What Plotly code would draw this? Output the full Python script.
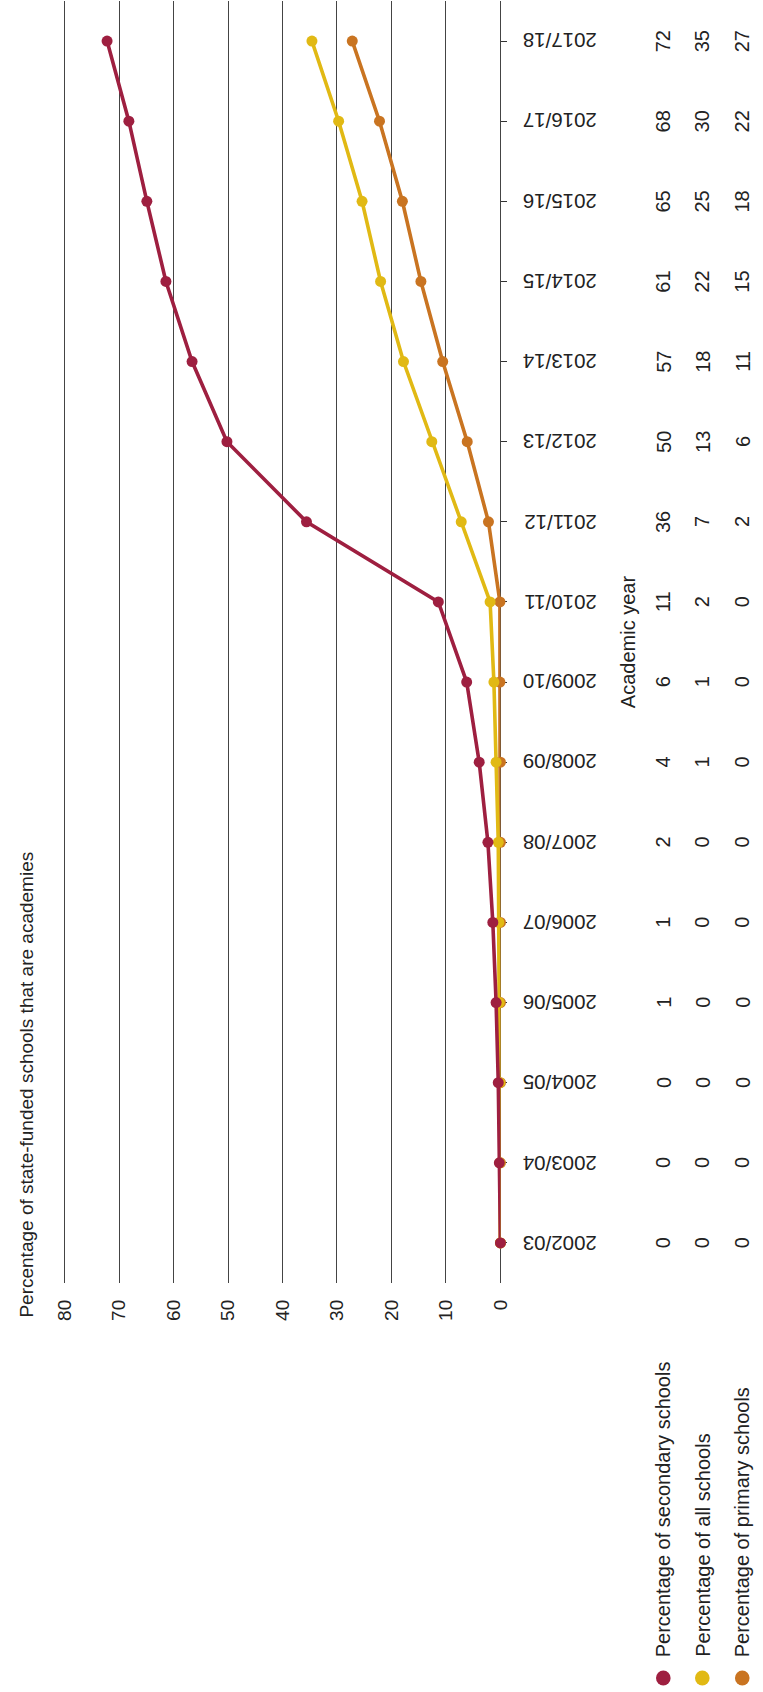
import plotly.graph_objects as go

W, H = 763, 1692

years = ["2002/03", "2003/04", "2004/05", "2005/06", "2006/07", "2007/08", "2008/09",
         "2009/10", "2010/11", "2011/12", "2012/13", "2013/14", "2014/15", "2015/16",
         "2016/17", "2017/18"]

secondary = [0.0, 0.2, 0.4, 0.8, 1.4, 2.3, 3.9, 6.2, 11.4, 35.6, 50.2, 56.6, 61.4, 64.9, 68.2, 72.2]
all_schools = [0.0, 0.1, 0.1, 0.2, 0.3, 0.4, 0.8, 1.2, 1.9, 7.2, 12.6, 17.8, 22.0, 25.4, 29.7, 34.6]
primary = [0.0, 0.0, 0.0, 0.0, 0.0, 0.0, 0.0, 0.1, 0.1, 2.2, 6.1, 10.6, 14.6, 18.0, 22.2, 27.2]

series_names = ["Percentage of secondary schools", "Percentage of all schools",
                "Percentage of primary schools"]
series_values = [secondary, all_schools, primary]
colors = ["#9E1F40", "#E1B914", "#C97421"]

value_ticks = [0, 10, 20, 30, 40, 50, 60, 70, 80]

title_text = "Percentage of state-funded schools that are academies"
xaxis_title = "Academic year"

FONT = "Liberation Sans, Arial, Helvetica, sans-serif"
TXT = "#222222"

def px(x):
    return x / W

def py(y):
    return 1 - y / H

# plot area: value 0 at x=504, value 80 at x=57; small pad so the 80 gridline is drawn
unit = (504 - 57) / 80.0
xmax = 80.25
plot_l, plot_r, plot_t, plot_b = 504 - xmax * unit, 504, 1, 1283
col_x = [671, 711, 752]

fig = go.Figure()
for i in [2, 1, 0]:
    fig.add_trace(go.Scatter(
        x=series_values[i], y=years, mode="lines+markers",
        line=dict(color=colors[i], width=3.6),
        marker=dict(color=colors[i], size=11),
        name=series_names[i], showlegend=False, cliponaxis=False,
    ))

annotations = []
for yr in years:
    annotations.append(dict(x=px(565), xref="paper", y=yr, yref="y", text=yr,
                            textangle=180, showarrow=False, xanchor="center", yanchor="middle",
                            font=dict(family=FONT, size=20.5, color=TXT)))
for i, vals in enumerate(series_values):
    for yr, v in zip(years, vals):
        annotations.append(dict(x=px(col_x[i]), xref="paper", y=yr, yref="y",
                                text=str(int(v + 0.5)), textangle=-90, showarrow=False,
                                xanchor="center", yanchor="middle",
                                font=dict(family=FONT, size=20, color=TXT)))
annotations.append(dict(x=px(635), xref="paper", y=py(642), yref="paper", text=xaxis_title,
                        textangle=-90, showarrow=False, xanchor="center", yanchor="middle",
                        font=dict(family=FONT, size=20, color=TXT)))
annotations.append(dict(x=px(17), xref="paper", y=py(1320), yref="paper", text=title_text,
                        textangle=-90, showarrow=False, xanchor="center", yanchor="bottom",
                        font=dict(family=FONT, size=19, color=TXT)))
shapes = []
for i, name in enumerate(series_names):
    annotations.append(dict(x=px(col_x[i]), xref="paper", y=py(1659), yref="paper", text=name,
                            textangle=-90, showarrow=False, xanchor="center", yanchor="bottom",
                            font=dict(family=FONT, size=20, color=TXT)))
    r = 7.5
    shapes.append(dict(type="circle", xref="paper", yref="paper",
                       x0=px(col_x[i] - r), x1=px(col_x[i] + r),
                       y0=py(1678 + r), y1=py(1678 - r),
                       fillcolor=colors[i], line=dict(width=0)))

fig.update_layout(
    width=W, height=H,
    margin=dict(l=0, r=0, t=0, b=0),
    paper_bgcolor="white", plot_bgcolor="white",
    showlegend=False,
    annotations=annotations, shapes=shapes,
    xaxis=dict(domain=[px(plot_l), px(plot_r)], range=[xmax, 0], tickvals=value_ticks,
               ticktext=[str(v) for v in value_ticks],
               showgrid=True, gridcolor="#444444", gridwidth=1,
               zeroline=True, zerolinecolor="#444444", zerolinewidth=1,
               showline=False, ticks="", tickangle=-90, ticklabelstandoff=12,
               tickfont=dict(family=FONT, size=19, color=TXT), fixedrange=True,
               layer="below traces"),
    yaxis=dict(domain=[py(plot_b), py(plot_t)], type="category",
               categoryorder="array", categoryarray=years,
               range=[-0.5, len(years) - 0.5], side="right",
               showgrid=False, zeroline=False, showline=False,
               ticks="outside", ticklen=6, tickcolor="#333333", tickwidth=1,
               showticklabels=False, fixedrange=True, layer="below traces"),
)

fig.write_html("out.html")
